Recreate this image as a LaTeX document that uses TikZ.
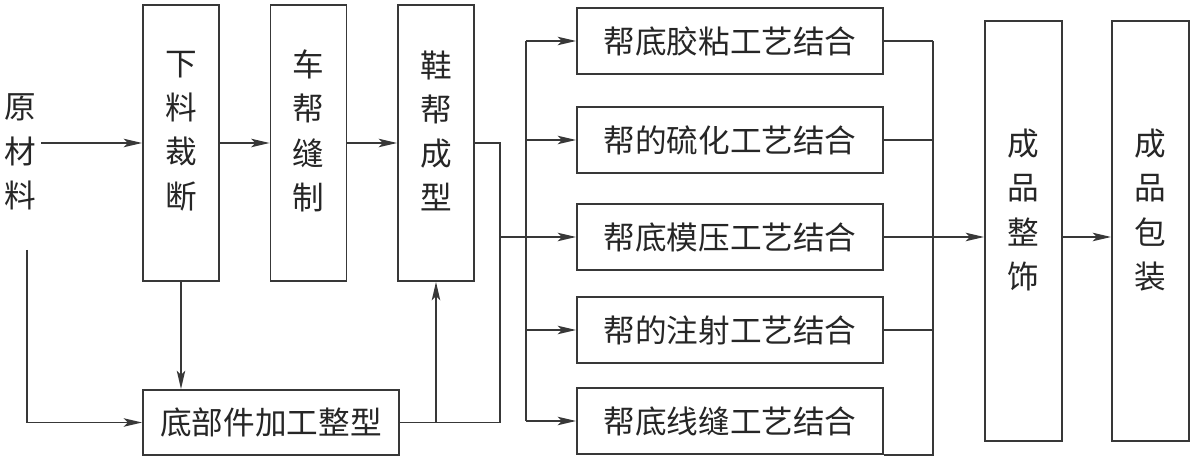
\documentclass[tikz,border=0pt]{standalone}
\usepackage{fontspec}
\setmainfont{Noto Sans CJK SC}
\usetikzlibrary{arrows.meta}

\begin{document}
\begin{tikzpicture}[x=0.025cm, y=-0.025cm, color=black!78, line width=1.2pt,
  every node/.style={font=\fontsize{22.5}{31.5}\selectfont, text=black!85},
  tall/.style={draw, line width=1.3pt, minimum width=1.9cm, minimum height=6.9cm, inner sep=0pt},
  long/.style={draw, line width=1.3pt, minimum width=7.65cm, minimum height=1.65cm, inner sep=0pt},
  vlbl/.style={align=center},
  arr/.style={-{Stealth[length=13pt, width=6pt, inset=3pt]}}]
\path[use as bounding box, fill=white] (0,0) rectangle (1193,457);
\node[align=center] (yuan) at (20,152) {原\\材\\料};
\node[tall, label={[vlbl, yshift=0.3cm]center:下\\料\\裁\\断}] (xl) at (181,143) {};
\node[tall, label={[vlbl, yshift=0.3cm]center:车\\帮\\缝\\制}] (cb) at (308.5,143) {};
\node[tall, label={[vlbl, yshift=0.3cm]center:鞋\\帮\\成\\型}] (xb) at (436,143) {};
\node[draw, line width=1.3pt, minimum width=6.4cm, minimum height=1.63cm] (dbj) at (271,422.5) {底部件加工整型};
\foreach \t/\y [count=\i] in {帮底胶粘工艺结合/41, 帮的硫化工艺结合/140, 帮底模压工艺结合/237, 帮的注射工艺结合/330, 帮底线缝工艺结合/421}
  \node[long] (g\i) at (730,\y) {\t};
\node[tall, minimum width=1.925cm, minimum height=10.5cm, label={[vlbl, yshift=0.525cm]center:成\\品\\整\\饰}] (zs) at (1023.5,231) {};
\node[tall, minimum width=1.925cm, minimum height=10.5cm, label={[vlbl, yshift=0.525cm]center:成\\品\\包\\装}] (bz) at (1150.5,231) {};
\coordinate (ydown) at (27,250);
\coordinate (j1) at (500,237);
\coordinate (lbus) at (526,0);
\coordinate (rbus) at (933,0);
\draw[arr] (yuan.east |- xl) -- (xl);
\draw[arr] (xl) -- (cb);
\draw[arr] (cb) -- (xb);
\draw[arr] (xl) -- (xl |- dbj.north);
\draw[arr] (ydown) |- (dbj);
\draw (xb) -| (j1) |- (dbj);
\draw[arr] (xb |- dbj.east) -- (xb);
\draw[arr] (j1) -- (g3);
\draw (lbus |- g1) -- (lbus |- g5);
\foreach \i in {1,2,4,5}
  \draw[arr] (lbus |- g\i) -- (g\i);
\foreach \i in {1,...,4}
  \draw (g\i) -- (rbus |- g\i);
\draw (g5.south east) -- (rbus |- g5.south east) -- (rbus |- g1);
\draw[arr] (rbus |- g3) -- (zs.west |- g3);
\draw[arr] (zs.east |- g3) -- (bz.west |- g3);
\end{tikzpicture}
\end{document}
